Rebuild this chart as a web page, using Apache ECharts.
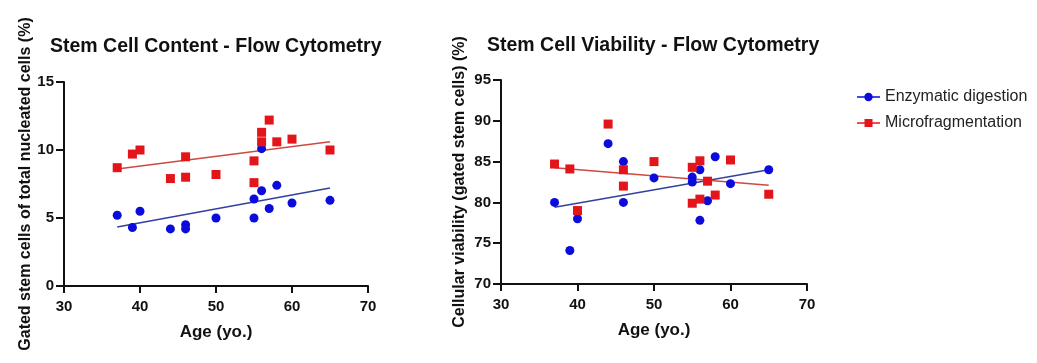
<!DOCTYPE html>
<html>
<head>
<meta charset="utf-8">
<script src="https://cdn.jsdelivr.net/npm/echarts@6/dist/echarts.min.js"></script>
<style>
html,body{margin:0;padding:0;background:#fff;}
#c{width:1037px;height:363px;}
</style>
</head>
<body>
<div id="c"></div>
<script>
// ---- Data ----
// Left: Stem Cell Content (% of total nucleated cells)
const contentEnzymatic = [
  [37,5.2],[39,4.3],[40,5.5],[44,4.2],[46,4.5],[46,4.2],[50,5.0],[55,6.4],
  [55,5.0],[56,10.1],[56,7.0],[57,5.7],[58,7.4],[60,6.1],[65,6.3]
];
const contentMicro = [
  [37,8.7],[39,9.7],[40,10.0],[44,7.9],[46,9.5],[46,8.0],[50,8.2],[55,9.2],
  [55,7.6],[56,11.3],[56,10.6],[57,12.2],[58,10.6],[60,10.8],[65,10.0]
];
const contentTrendEnzymatic = [[37,4.34],[65,7.2]];
const contentTrendMicro = [[37,8.6],[65,10.6]];

// Right: Stem Cell Viability (%)
const viabilityEnzymatic = [
  [37,80.0],[39,74.1],[40,78.0],[44,87.2],[46,85.0],[46,80.0],[50,83.0],[55,83.1],
  [55,82.5],[56,84.0],[56,77.8],[57,80.2],[58,85.6],[60,82.3],[65,84.0]
];
const viabilityMicro = [
  [37,84.7],[39,84.1],[40,79.0],[44,89.6],[46,84.0],[46,82.0],[50,85.0],[55,84.3],
  [55,79.9],[56,85.1],[56,80.4],[57,82.6],[58,80.9],[60,85.2],[65,81.0]
];
const viabilityTrendEnzymatic = [[37,79.4],[65,84.0]];
const viabilityTrendMicro = [[37,84.25],[65,82.1]];

const seriesNames = ['Enzymatic digestion','Microfragmentation'];
const titles = ['Stem Cell Content - Flow Cytometry','Stem Cell Viability - Flow Cytometry'];
const xAxisName = 'Age (yo.)';
const yAxisNames = ['Gated stem cells of total nucleated cells (%)','Cellular viability (gated stem cells) (%)'];

// ---- Style ----
const BLUE = '#0b0bdc';
const RED = '#e3151a';
const BLUE_LINE = '#3440a0';
const RED_LINE = '#cc4a40';
const FONT = 'Liberation Sans, Arial, sans-serif';

function xAxis(gridIndex){
  return {
    type:'value', gridIndex, min:30, max:70, interval:10,
    name:xAxisName, nameLocation:'middle', nameGap:38,
    nameTextStyle:{fontFamily:FONT,fontWeight:'bold',fontSize:17,color:'#111'},
    axisLine:{show:true,onZero:false,lineStyle:{color:'#111',width:2}},
    axisTick:{show:true,length:7,lineStyle:{color:'#111',width:2}},
    axisLabel:{fontFamily:FONT,fontWeight:'bold',fontSize:15,color:'#111',margin:13},
    splitLine:{show:false}
  };
}
function yAxis(gridIndex,min,max,interval,name,gap){
  return {
    type:'value', gridIndex, min, max, interval,
    name, nameLocation:'middle', nameGap:gap,
    nameTextStyle:{fontFamily:FONT,fontWeight:'bold',fontSize:16,color:'#111'},
    axisLine:{show:true,onZero:false,lineStyle:{color:'#111',width:2}},
    axisTick:{show:true,length:8,lineStyle:{color:'#111',width:2}},
    axisLabel:{fontFamily:FONT,fontWeight:'bold',fontSize:15,color:'#111',margin:10},
    splitLine:{show:false}
  };
}
function scatter(name,data,idx,color,symbol){
  return {name,type:'scatter',xAxisIndex:idx,yAxisIndex:idx,data,symbol,symbolSize:9,
    itemStyle:{color,opacity:1},z:3};
}
function trend(data,idx,color){
  return {type:'line',xAxisIndex:idx,yAxisIndex:idx,data,showSymbol:false,symbol:'none',silent:true,
    lineStyle:{color,width:1.5},z:2};
}

const iconCircle = 'path://M0,4.1L23,4.1L23,5.4L0,5.4Z M7.3,4.75A4.2,4.2 0 1 1 15.7,4.75A4.2,4.2 0 1 1 7.3,4.75Z';
const iconSquare = 'path://M0,4.1L23,4.1L23,5.4L0,5.4Z M7.5,0.75L15.5,0.75L15.5,8.75L7.5,8.75Z';

const chart = echarts.init(document.getElementById('c'), null, {renderer:'canvas'});
chart.setOption({
  animation:false,
  backgroundColor:'#fff',
  title:[
    {text:titles[0],left:50,top:37,padding:0,textStyle:{fontFamily:FONT,fontWeight:'bold',fontSize:19.5,color:'#111'}},
    {text:titles[1],left:487,top:36,padding:0,textStyle:{fontFamily:FONT,fontWeight:'bold',fontSize:19.5,color:'#111'}}
  ],
  legend:{
    orient:'vertical', left:852, top:84, itemGap:10, itemWidth:23, itemHeight:9,
    textStyle:{fontFamily:FONT,fontSize:16,color:'#222'},
    data:[
      {name:seriesNames[0],icon:iconCircle,itemStyle:{color:BLUE}},
      {name:seriesNames[1],icon:iconSquare,itemStyle:{color:RED}}
    ]
  },
  grid:[
    {left:64,top:82,width:304,height:204},
    {left:501,top:80,width:306,height:204}
  ],
  xAxis:[xAxis(0),xAxis(1)],
  yAxis:[
    yAxis(0,0,15,5,yAxisNames[0],30),
    yAxis(1,70,95,5,yAxisNames[1],33)
  ],
  series:[
    trend(contentTrendEnzymatic,0,BLUE_LINE),
    trend(contentTrendMicro,0,RED_LINE),
    scatter(seriesNames[0],contentEnzymatic,0,BLUE,'circle'),
    scatter(seriesNames[1],contentMicro,0,RED,'rect'),
    trend(viabilityTrendEnzymatic,1,BLUE_LINE),
    trend(viabilityTrendMicro,1,RED_LINE),
    scatter(seriesNames[0],viabilityEnzymatic,1,BLUE,'circle'),
    scatter(seriesNames[1],viabilityMicro,1,RED,'rect')
  ]
});
</script>
</body>
</html>
